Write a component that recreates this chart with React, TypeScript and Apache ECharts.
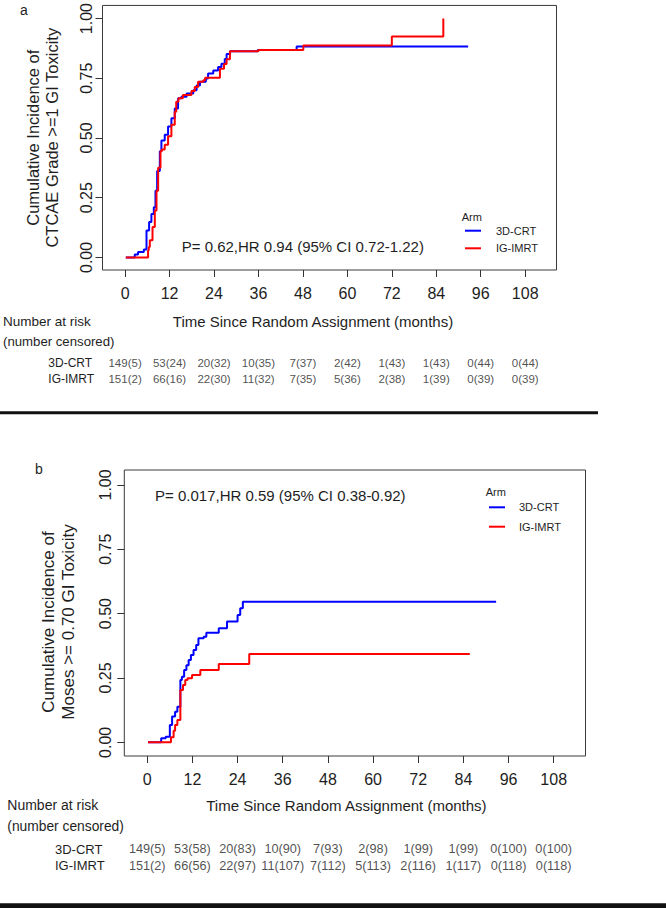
import React, { useEffect, useRef } from "react";
import * as echarts from "echarts";

const FONT = "'Liberation Sans', Arial, sans-serif";

const months = [0, 12, 24, 36, 48, 60, 72, 84, 96, 108];
const yTicks = [0, 0.25, 0.5, 0.75, 1];
const arms = ["3D-CRT", "IG-IMRT"];

// Panel a: cumulative incidence of CTCAE grade >=1 GI toxicity [month, value]
const aCRT: [number, number][] = [
  [0.2, 0], [2.6, 0.012], [3.5, 0.023], [5.05, 0.033], [5.78, 0.113], [6.48, 0.148],
  [7.1, 0.182], [7.75, 0.21], [8.2, 0.279], [8.65, 0.362], [9.37, 0.445], [9.8, 0.49],
  [10.7, 0.514], [11.6, 0.548], [12.5, 0.583], [13.4, 0.624], [14.3, 0.666], [15.2, 0.673],
  [16.6, 0.686], [18.4, 0.7], [19.3, 0.72], [20.2, 0.735], [21.8, 0.749], [22.4, 0.77],
  [23.8, 0.783], [25.1, 0.797], [26.0, 0.811], [26.9, 0.831], [27.4, 0.852], [28.3, 0.863],
  [35.8, 0.868], [46.3, 0.883], [92.6, 0.883],
];
const aIMRT: [number, number][] = [
  [0.2, 0], [6.2, 0.03], [6.4, 0.044], [6.67, 0.072], [7.4, 0.127], [8.02, 0.196],
  [8.48, 0.279], [8.92, 0.375], [9.55, 0.445], [9.9, 0.452], [10.7, 0.472], [11.6, 0.507],
  [12.5, 0.555], [13.4, 0.61], [13.8, 0.652], [14.4, 0.666], [15.6, 0.68], [17.9, 0.697],
  [18.8, 0.714], [19.7, 0.735], [21.1, 0.742], [21.6, 0.752], [25.6, 0.79], [26.7, 0.81],
  [27.4, 0.83], [28.3, 0.863], [36.0, 0.868], [48.1, 0.887], [72, 0.925], [85.9, 1.0],
];

// Panel b: cumulative incidence of Moses >= 0.70 GI toxicity
const bCRT: [number, number][] = [
  [0.2, 0], [3.7, 0.016], [4.9, 0.022], [6.0, 0.067], [6.6, 0.1], [7.4, 0.119], [8.0, 0.138],
  [8.8, 0.242], [9.2, 0.255], [9.8, 0.281], [10.4, 0.3], [11.0, 0.32], [11.6, 0.339],
  [12.3, 0.359], [13.0, 0.378], [13.6, 0.404], [15.0, 0.41], [15.7, 0.426], [19.0, 0.443],
  [21.2, 0.469], [24.0, 0.495], [24.7, 0.521], [25.4, 0.546], [92.7, 0.546],
];
const bIMRT: [number, number][] = [
  [0.2, 0], [6.3, 0.02], [7.0, 0.045], [7.4, 0.067], [8.0, 0.087], [8.8, 0.203], [9.5, 0.223],
  [10.1, 0.242], [10.7, 0.249], [11.9, 0.262], [14.1, 0.281], [19.0, 0.304], [27.1, 0.343],
  [85.7, 0.343],
];

// Number at risk (number censored)
const aRiskCRT = [149, 53, 20, 10, 7, 2, 1, 1, 0, 0];
const aCensCRT = [5, 24, 32, 35, 37, 42, 43, 43, 44, 44];
const aRiskIMRT = [151, 66, 22, 11, 7, 5, 2, 1, 0, 0];
const aCensIMRT = [2, 16, 30, 32, 35, 36, 38, 39, 39, 39];
const bRiskCRT = [149, 53, 20, 10, 7, 2, 1, 1, 0, 0];
const bCensCRT = [5, 58, 83, 90, 93, 98, 99, 99, 100, 100];
const bRiskIMRT = [151, 66, 22, 11, 7, 5, 2, 1, 0, 0];
const bCensIMRT = [2, 56, 97, 107, 112, 113, 116, 117, 118, 118];

const BLUE = "#0000ff";
const RED = "#ff0000";
const TXT = "#1e1e1e";
const AX = "#333333";

const X_MIN = -6.1;
const X_MAX = 116.45;

function tableData(r1: number[], c1: number[], r2: number[], c2: number[]) {
  const out: any[] = [];
  months.forEach((m, i) => out.push([m, 0, `${r1[i]}(${c1[i]})`]));
  months.forEach((m, i) => out.push([m, 1, `${r2[i]}(${c2[i]})`]));
  return out;
}

function plotX(grid: number, nameGap: number, padRight: number) {
  return {
    gridIndex: grid,
    type: "value",
    min: X_MIN,
    max: X_MAX,
    axisLine: { show: false, onZero: false },
    splitLine: { show: false },
    axisTick: { show: true, length: 7, customValues: months, lineStyle: { color: AX, width: 1 } },
    axisLabel: { customValues: months, margin: 15, fontSize: 16, color: TXT, fontFamily: FONT },
    name: "Time Since Random Assignment (months)",
    nameLocation: "middle",
    nameGap,
    nameTextStyle: { fontSize: 15, color: TXT, fontFamily: FONT, padding: [0, padRight, 0, 0] },
  };
}

function plotY(grid: number, min: number, max: number, name: string, margin: number, nameGap: number, lh: number, fs: number, pad: number[]) {
  return {
    gridIndex: grid,
    type: "value",
    min,
    max,
    axisLine: { show: false, onZero: false },
    splitLine: { show: false },
    axisTick: { show: true, length: 7, customValues: yTicks, lineStyle: { color: AX, width: 1 } },
    axisLabel: {
      customValues: yTicks,
      rotate: 90,
      margin,
      fontSize: 16,
      color: TXT,
      fontFamily: FONT,
      formatter: (v: number) => v.toFixed(2),
    },
    name,
    nameLocation: "middle",
    nameRotate: 90,
    nameGap,
    nameTextStyle: { fontSize: fs, lineHeight: lh, color: TXT, fontFamily: FONT, padding: pad },
  };
}

function tableX(grid: number) {
  return { gridIndex: grid, type: "value", min: X_MIN, max: X_MAX, show: false, axisLine: { onZero: false } };
}

function tableY(grid: number, margin: number, fs: number) {
  return {
    gridIndex: grid,
    type: "category",
    data: arms,
    inverse: true,
    axisLine: { show: false, onZero: false },
    axisTick: { show: false },
    splitLine: { show: false },
    axisLabel: { align: "left", interval: 0, margin, fontSize: fs, color: TXT, fontFamily: FONT },
  };
}

function stepSeries(name: string, color: string, data: [number, number][], idx: number) {
  return {
    type: "line",
    name,
    step: "end",
    symbol: "none",
    silent: true,
    xAxisIndex: idx,
    yAxisIndex: idx,
    lineStyle: { color, width: 2 },
    itemStyle: { color },
    data,
  };
}

function tableSeries(idx: number, data: any[], fs: number) {
  return {
    type: "scatter",
    xAxisIndex: idx,
    yAxisIndex: idx,
    symbolSize: 1,
    silent: true,
    itemStyle: { color: "rgba(0,0,0,0)" },
    label: {
      show: true,
      position: "inside",
      formatter: (p: any) => p.value[2],
      fontSize: fs,
      color: TXT,
      fontFamily: FONT,
    },
    labelLayout: { hideOverlap: false },
    data,
  };
}

function text(x: number, y: number, t: string, fs: number, align = "left") {
  return {
    type: "text",
    x,
    y,
    silent: true,
    style: { text: t, fontSize: fs, fontFamily: FONT, fill: TXT, align, verticalAlign: "middle" },
  };
}

export default function App() {
  const ref = useRef<HTMLDivElement>(null);
  useEffect(() => {
    if (!ref.current) return;
    const chart = echarts.init(ref.current, undefined, { renderer: "svg" });
    const option: any = {
      animation: false,
      grid: [
        { left: 102.5, top: 2.7, width: 454, height: 267.3, show: true, borderColor: "#3a3a3a", borderWidth: 1, backgroundColor: "transparent" },
        { left: 124.3, top: 470, width: 461.2, height: 286, show: true, borderColor: "#3a3a3a", borderWidth: 1, backgroundColor: "transparent" },
        { left: 102.5, top: 355.3, width: 454, height: 32 },
        { left: 124.3, top: 841.1, width: 461.2, height: 32.8 },
      ],
      xAxis: [plotX(0, 43.5, 33), plotX(1, 41.5, 17), tableX(2), tableX(3)],
      yAxis: [
        plotY(0, -0.0526, 1.055, "Cumulative Incidence of\nCTCAE Grade >=1 GI Toxicity", 8.5, 41.5, 18.7, 16.5, [0, 0, 0, 0]),
        plotY(1, -0.053, 1.058, "Cumulative Incidence of\nMoses >= 0.70 GI Toxicity", 11, 45.8, 20.3, 17, [0, 18, 0, 0]),
        tableY(2, 54.2, 12),
        tableY(3, 69.3, 13),
      ],
      legend: [
        {
          orient: "vertical",
          left: 465,
          top: 224.2,
          padding: 0,
          itemWidth: 16,
          itemHeight: 2,
          itemGap: 4.6,
          icon: "rect",
          selectedMode: false,
          data: arms,
          textStyle: { fontSize: 11, lineHeight: 13, color: TXT, fontFamily: FONT, padding: [0, 0, 0, 10] },
        },
        {
          orient: "vertical",
          left: 489,
          top: 500.8,
          padding: 0,
          itemWidth: 16,
          itemHeight: 2,
          itemGap: 6.4,
          icon: "rect",
          selectedMode: false,
          data: arms,
          textStyle: { fontSize: 11, lineHeight: 13, color: TXT, fontFamily: FONT, padding: [0, 0, 0, 9] },
        },
      ],
      series: [
        stepSeries("3D-CRT", BLUE, aCRT, 0),
        stepSeries("IG-IMRT", RED, aIMRT, 0),
        stepSeries("3D-CRT", BLUE, bCRT, 1),
        stepSeries("IG-IMRT", RED, bIMRT, 1),
        tableSeries(2, tableData(aRiskCRT, aCensCRT, aRiskIMRT, aCensIMRT), 11.5),
        tableSeries(3, tableData(bRiskCRT, bCensCRT, bRiskIMRT, bCensIMRT), 12.7),
      ],
      graphic: [
        text(24, 10, "a", 14, "center"),
        text(39, 469.3, "b", 14, "center"),
        text(181.7, 246.7, "P= 0.62,HR 0.94 (95% CI 0.72-1.22)", 15),
        text(155, 495, "P= 0.017,HR 0.59 (95% CI 0.38-0.92)", 15),
        text(461.7, 216.7, "Arm", 11),
        text(485.7, 491.7, "Arm", 11),
        text(3, 321, "Number at risk", 13.5),
        text(3, 341, "(number censored)", 13.2),
        text(7.3, 805, "Number at risk", 14),
        text(7.3, 826, "(number censored)", 13.8),
        { type: "rect", silent: true, shape: { x: 0, y: 411.3, width: 598, height: 3 }, style: { fill: "#111" } },
        { type: "rect", silent: true, shape: { x: 0, y: 903.3, width: 666, height: 4.7 }, style: { fill: "#111" } },
      ],
    };
    chart.setOption(option);
    return () => chart.dispose();
  }, []);
  return (
    <div
      ref={ref}
      style={{ position: "absolute", left: 0, top: 0, width: 666, height: 908, background: "#fff" }}
    />
  );
}
